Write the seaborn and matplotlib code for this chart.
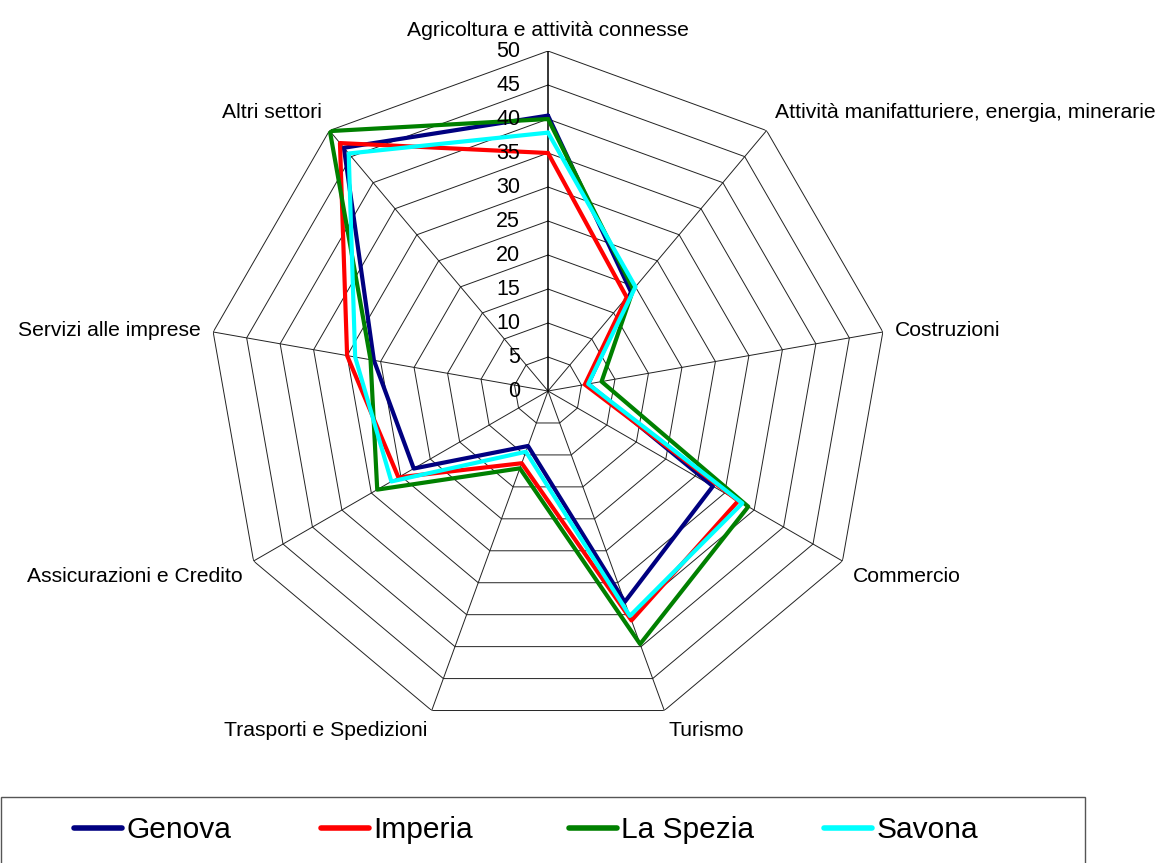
import numpy as np
import pandas as pd
from matplotlib import pyplot as plt
from matplotlib.lines import Line2D
from matplotlib.patches import Rectangle
import seaborn as sns

# data

categories = ['Agricoltura e attività connesse',
              'Attività manifatturiere, energia, minerarie',
              'Costruzioni', 'Commercio', 'Turismo',
              'Trasporti e Spedizioni', 'Assicurazioni e Credito',
              'Servizi alle imprese', 'Altri settori']
cities = ['Genova', 'Imperia', 'La Spezia', 'Savona']
genova = [40.5, 19, 6, 28, 33, 8.6, 22.8, 26, 46.7]
imperia = [35, 18, 5.5, 32.3, 35.9, 11.3, 25.4, 30, 47.6]
la_spezia = [40, 19.5, 8, 34, 39.6, 12.1, 29, 26.5, 49.9]
savona = [38, 20, 6, 33, 35.2, 9.5, 26.6, 28.8, 45.6]
ticks = [0, 5, 10, 15, 20, 25, 30, 35, 40, 45, 50]
colors = {'Genova': '#000080', 'Imperia': '#FF0000',
          'La Spezia': '#008000', 'Savona': '#00FFFF'}

sns.set_theme(style='white')
plt.rcParams['font.family'] = ['Liberation Sans', 'DejaVu Sans']
plt.rcParams['text.color'] = 'black'

n = len(categories)
angles = np.linspace(0, 2 * np.pi, n, endpoint=False)
closed = np.append(angles, 2 * np.pi)

# long table for seaborn, each polygon closed on the first category
rows = []
for city, vals in zip(cities, [genova, imperia, la_spezia, savona]):
    for a, v in zip(closed, vals + vals[:1]):
        rows.append([city, a, v])
df = pd.DataFrame(rows, columns=['city', 'angle', 'value'])

fig = plt.figure(figsize=(11.64, 8.63), dpi=100)
ax = fig.add_axes([0.1787, 0.1529, 0.5842, 0.788], projection='polar')
ax.set_theta_zero_location('N')
ax.set_theta_direction(-1)
ax.grid(False)
ax.spines['polar'].set_visible(False)
ax.set_xticks([])
ax.set_yticks([])
ax.set_ylim(0, 50)

# polygon grid
for r in ticks[1:]:
    ax.plot(closed, [r] * len(closed), color='#222222', lw=0.7, zorder=1)
for a in angles[1:]:
    ax.plot([a, a], [0, 50], color='#222222', lw=0.7, zorder=1)
ax.plot([0, 0], [0, 50], color='black', lw=1.1, zorder=1)

sns.lineplot(data=df, x='angle', y='value', hue='city', hue_order=cities,
             palette=colors, sort=False, estimator=None, linewidth=3,
             legend=False, ax=ax, zorder=3)
ax.set_xlabel('')
ax.set_ylabel('')

for t in ticks:
    ax.annotate(str(t), xy=(0, t), xytext=(-20, 0), textcoords='offset points',
                ha='right', va='center', fontsize=15.5, color='black')

for a, cat in zip(angles, categories):
    s, c = np.sin(a), np.cos(a)
    ha = 'center' if abs(s) < 0.1 else ('left' if s > 0 else 'right')
    va = 'bottom' if c > 0.3 else ('top' if c < -0.3 else 'center')
    ax.annotate(cat, xy=(a, 50), xytext=(9 * s, 8 * c), textcoords='offset points',
                ha=ha, va=va, fontsize=15.2, color='black')

# legend box along the bottom, entries on a regular column grid
fig.patches.append(Rectangle((0.001, -0.05), 0.931, 0.1265, transform=fig.transFigure,
                             fill=False, edgecolor='#555555', lw=1))
starts = [0.064, 0.276, 0.489, 0.708]
for city, x0 in zip(cities, starts):
    h = Line2D([], [], color=colors[city], lw=4, solid_capstyle='round')
    fig.legend([h], [city], loc='center left', bbox_to_anchor=(x0, 0.038),
               frameon=False, fontsize=21.5, handlelength=1.6, handletextpad=0.15,
               borderpad=0, borderaxespad=0, labelcolor='black')

fig.savefig('out.png', dpi=100)
